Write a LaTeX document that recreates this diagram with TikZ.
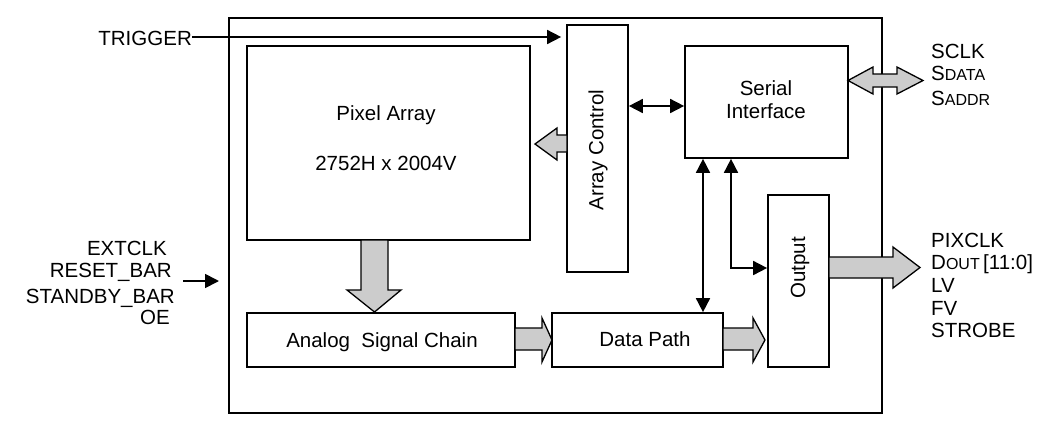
\documentclass[tikz,border=0pt]{standalone}
\usepackage{fontspec}
\setmainfont{Liberation Sans}
\usetikzlibrary{arrows.meta,calc}
\definecolor{blockgray}{RGB}{204,204,204}
\begin{document}
\begin{tikzpicture}[x=1pt,y=-1pt,
  blk/.style={draw,line width=1.7pt,inner sep=0pt,anchor=center},
  txt/.style={inner sep=0pt,font=\fontsize{20.5}{24}\selectfont},
  thin/.style={line width=1.7pt,-{Triangle[length=14pt,width=14pt]}},
  thinb/.style={line width=1.7pt,{Triangle[length=14pt,width=14pt]}-{Triangle[length=14pt,width=14pt]}},
  barrow/.style={draw,line width=1.3pt,fill=blockgray,line join=miter}]
\useasboundingbox (0,0) rectangle (1053,424);
\newcommand{\smc}[1]{{\fontsize{16}{18}\selectfont #1}}
% blocks
\node[blk,minimum width=653pt,minimum height=395pt] (outer) at (555.5,215.5) {};
\node[blk,minimum width=283pt,minimum height=194pt] (pix) at (388.5,143) {};
\node[blk,minimum width=61pt,minimum height=247pt] (ac) at (597.5,148.5) {};
\node[blk,minimum width=163pt,minimum height=112pt] (si) at (766.5,102) {};
\node[blk,minimum width=61pt,minimum height=172pt] (out) at (798.5,281) {};
\node[blk,minimum width=268pt,minimum height=54pt] (asc) at (381,340) {};
\node[blk,minimum width=171pt,minimum height=54pt] (dp) at (637.5,340) {};
% block texts
\node[txt,anchor=base] (pixt1) at (386,120) {Pixel Array};
\node[txt,anchor=base] (pixt2) at (386,170) {2752H x 2004V};
\node[txt,anchor=base] (sit1) at (766,95) {Serial};
\node[txt,anchor=base] (sit2) at (766,118) {Interface};
\node[txt,anchor=base] (asct) at (382,347) {Analog\ \ Signal Chain};
\node[txt,anchor=base] (dpt) at (645,346) {Data Path};
\node[txt,rotate=90] (act) at (598,150) {Array Control};
\node[txt,rotate=90] (outt) at (800,268) {Output};
% external labels
\node[txt,anchor=base east] (trig) at (192,45) {TRIGGER};
\node[txt,anchor=base east] (ext) at (167,255) {EXTCLK};
\node[txt,anchor=base east] (rst) at (172,277) {RESET\_BAR};
\node[txt,anchor=base east] (stb) at (175,303) {STANDBY\_BAR};
\node[txt,anchor=base east] (oe) at (170,324) {OE};
\node[txt,anchor=base west] (sclk) at (931,58) {SCLK};
\node[txt,anchor=base west] (sdata) at (931,80) {S\smc{DATA}};
\node[txt,anchor=base west] (saddr) at (931,105) {S\smc{ADDR}};
\node[txt,anchor=base west] (pixclk) at (931,247) {PIXCLK};
\node[txt,anchor=base west] (dout) at (931,269) {D\smc{OUT}\,[11:0]};
\node[txt,anchor=base west] (lv) at (931,292) {LV};
\node[txt,anchor=base west] (fv) at (931,315) {FV};
\node[txt,anchor=base west] (strobe) at (931,337) {STROBE};
% helper coordinates
\coordinate (ytrig) at (0,37);
\coordinate (y106) at (0,106);
\coordinate (x703) at (703,0);
\coordinate (x731) at (731,0);
\coordinate (y268) at (0,268);
\coordinate (inL) at (183,281);
\coordinate (inR) at (219,281);
% thin connectors
\draw[thin,shorten >=5pt] (trig.east |- ytrig) -- (ac.west |- ytrig);
\draw[thinb] (ac.east |- y106) -- (si.west |- y106);
\draw[thinb] (si.south -| x703) -- (dp.north -| x703);
\draw[thinb] (si.south -| x731) |- (out.west |- y268);
\draw[thin] (inL) -- (inR);
% block arrows
\draw[barrow] (361,240) -- (388,240) -- (388,290) -- (401,290) -- (374.5,312) -- (347,290) -- (361,290) -- cycle;
\draw[barrow] (567,135) -- (557,135) -- (557,128) -- (535,144) -- (557,160) -- (557,152) -- (567,152) -- cycle;
\draw[barrow] (848,80.5) -- (873,67) -- (873,74) -- (897,74) -- (897,67) -- (923,80.5) -- (897,94) -- (897,87) -- (873,87) -- (873,94) -- cycle;
\draw[barrow] (829,257) -- (893,257) -- (893,247) -- (920,267.5) -- (893,288) -- (893,278) -- (829,278) -- cycle;
\draw[barrow] (515,328) -- (542,328) -- (542,318) -- (552,340) -- (542,362) -- (542,350) -- (515,350) -- cycle;
\draw[barrow] (723,328) -- (753,328) -- (753,318) -- (765,340) -- (753,362) -- (753,350) -- (723,350) -- cycle;
\end{tikzpicture}
\end{document}
